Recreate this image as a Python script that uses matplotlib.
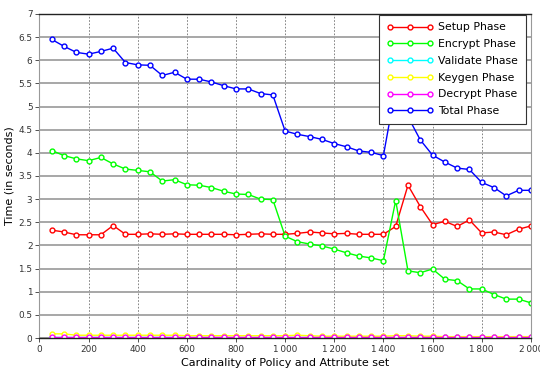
import numpy as np
import matplotlib
matplotlib.use('Agg')
import matplotlib.pyplot as plt

# --- Data ---
cardinality = list(range(50, 2001, 50))

setup_phase = [2.33, 2.29, 2.23, 2.23, 2.23, 2.43, 2.24, 2.24, 2.25, 2.24,
               2.25, 2.24, 2.24, 2.24, 2.24, 2.23, 2.24, 2.25, 2.24, 2.24,
               2.26, 2.29, 2.27, 2.25, 2.26, 2.24, 2.24, 2.24, 2.41, 3.30,
               2.84, 2.45, 2.52, 2.41, 2.55, 2.27, 2.29, 2.23, 2.35, 2.42]
encrypt_phase = [4.05, 3.94, 3.87, 3.83, 3.90, 3.76, 3.65, 3.62, 3.59, 3.39,
                 3.42, 3.31, 3.30, 3.25, 3.17, 3.11, 3.10, 3.00, 2.99, 2.20,
                 2.08, 2.03, 1.99, 1.92, 1.84, 1.77, 1.73, 1.67, 2.97, 1.45,
                 1.41, 1.49, 1.27, 1.24, 1.06, 1.06, 0.94, 0.84, 0.84, 0.76]
validate_phase = [0.02] * 40
keygen_phase = [0.09, 0.09, 0.06, 0.06, 0.06, 0.06, 0.06, 0.06, 0.06, 0.06,
                0.06, 0.05, 0.05, 0.05, 0.05, 0.05, 0.05, 0.05, 0.05, 0.05,
                0.06, 0.05, 0.04, 0.04, 0.04, 0.04, 0.04, 0.04, 0.05, 0.05,
                0.04, 0.04, 0.03, 0.03, 0.03, 0.03, 0.03, 0.03, 0.03, 0.03]
decrypt_phase = [0.02] * 40
total_phase = [6.45, 6.30, 6.17, 6.13, 6.19, 6.26, 5.95, 5.90, 5.89, 5.67,
               5.74, 5.59, 5.59, 5.53, 5.45, 5.38, 5.38, 5.28, 5.25, 4.47,
               4.40, 4.35, 4.29, 4.20, 4.13, 4.04, 4.01, 3.94, 5.40, 4.78,
               4.28, 3.95, 3.80, 3.67, 3.64, 3.36, 3.25, 3.07, 3.19, 3.19]

series_names = ['Setup Phase', 'Encrypt Phase', 'Validate Phase',
                'Keygen Phase', 'Decrypt Phase', 'Total Phase']
series_values = [setup_phase, encrypt_phase, validate_phase,
                 keygen_phase, decrypt_phase, total_phase]
series_colors = ['#ff0000', '#00ff00', '#00ffff', '#ffff00', '#ff00ff', '#0000ff']

x_ticks = list(range(0, 2001, 200))
y_ticks = [v / 2 for v in range(0, 15)]

# --- Figure ---
fig = plt.figure(figsize=(5.4, 3.76), dpi=100)
ax = fig.add_axes([0.073, 0.101, 0.910, 0.862])

for name, values, color in zip(series_names, series_values, series_colors):
    ax.plot(cardinality, values, color=color, linewidth=1.0, marker='o',
            markersize=3.5, markerfacecolor='white', markeredgecolor=color,
            markeredgewidth=1.0, label=name)

ax.set_xlim(0, 2000)
ax.set_ylim(0, 7)
ax.set_xticks(x_ticks)
ax.set_xticklabels([f'{t:,}'.replace(',', '\u2009') for t in x_ticks], fontsize=6.4)
ax.set_yticks(y_ticks)
ax.set_yticklabels([f'{t:g}' for t in y_ticks], fontsize=6.4)
ax.tick_params(axis='both', direction='out', length=3, width=0.6,
               colors='#333333', pad=2)

# horizontal grid solid, vertical grid dashed
ax.yaxis.grid(True, color='#a0a0a0', linewidth=1.3, linestyle='-')
ax.xaxis.grid(True, color='#707070', linewidth=0.6, linestyle=(0, (2, 2)))
ax.set_axisbelow(True)

for side in ['top', 'bottom']:
    ax.spines[side].set_color('#222222')
    ax.spines[side].set_linewidth(1.0)
for side in ['left', 'right']:
    ax.spines[side].set_color('#999999')
    ax.spines[side].set_linewidth(0.8)

ax.set_xlabel('Cardinality of Policy and Attribute set', fontsize=8, labelpad=3)
ax.set_ylabel('Time (in seconds)', fontsize=8, labelpad=3)

legend = ax.legend(loc='upper right', bbox_to_anchor=(0.99, 0.997),
                   fontsize=7.8, numpoints=3, frameon=True, fancybox=False,
                   framealpha=1.0, edgecolor='#333333', borderpad=0.7,
                   labelspacing=0.62, handlelength=4.3, handletextpad=0.5,
                   borderaxespad=0.0)
legend.get_frame().set_linewidth(0.8)

fig.savefig('out.png', dpi=100)
